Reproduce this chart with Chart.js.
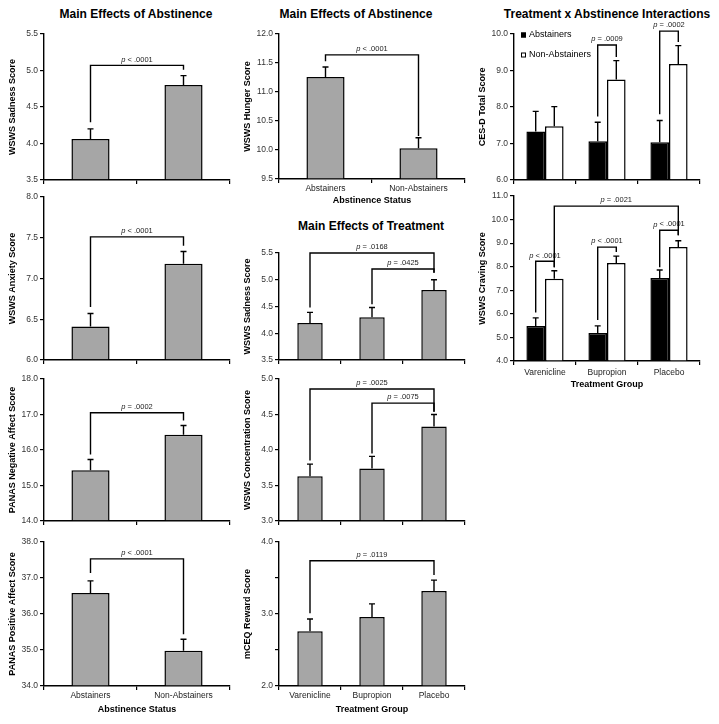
<!DOCTYPE html>
<html>
<head>
<meta charset="utf-8">
<script src="https://cdn.jsdelivr.net/npm/chart.js"></script>
<style>
  body { margin: 0; background: #fff; }
  #fig { position: relative; width: 719px; height: 724px; font-family: "Liberation Sans", Arial, sans-serif; }
  #fig canvas { position: absolute; }
  .title { position: absolute; font-weight: bold; font-size: 12px; white-space: nowrap; transform: translate(-50%, -50%); }
</style>
</head>
<body>
<div id="fig">
  <div class="title" style="left:136px; top:14px">Main Effects of Abstinence</div>
  <div class="title" style="left:356px; top:14px">Main Effects of Abstinence</div>
  <div class="title" style="left:371px; top:226px">Main Effects of Treatment</div>
  <div class="title" style="left:607px; top:14px">Treatment x Abstinence Interactions</div>
</div>
<script>
var abstLabels = ["Abstainers", "Non-Abstainers"];
var drugLabels = ["Varenicline", "Bupropion", "Placebo"];

// main effects of abstinence (mean, standard error)
var sadAbst = [4.06, 4.80];
var sadAbstSE = [0.14, 0.13];
var anxAbst = [6.41, 7.18];
var anxAbstSE = [0.16, 0.15];
var negAbst = [15.43, 16.43];
var negAbstSE = [0.30, 0.26];
var posAbst = [36.58, 34.98];
var posAbstSE = [0.34, 0.32];
var hungerAbst = [11.26, 10.03];
var hungerAbstSE = [0.17, 0.18];

// main effects of treatment
var sadDrug = [4.19, 4.30, 4.81];
var sadDrugSE = [0.20, 0.18, 0.19];
var concDrug = [3.63, 3.74, 4.33];
var concDrugSE = [0.17, 0.17, 0.17];
var rewardDrug = [2.76, 2.96, 3.32];
var rewardDrugSE = [0.17, 0.18, 0.15];

// treatment x abstinence
var cesdAbst = [7.33, 7.06, 7.03];
var cesdAbstSE = [0.55, 0.52, 0.60];
var cesdNon = [7.47, 8.75, 9.18];
var cesdNonSE = [0.54, 0.52, 0.50];
var cravAbst = [5.49, 5.19, 7.52];
var cravAbstSE = [0.34, 0.30, 0.34];
var cravNon = [7.49, 8.16, 8.84];
var cravNonSE = [0.34, 0.29, 0.26];

var barGray = "#a6a6a6";

// error bars, significance brackets and the small legend
var sigPlugin = {
  id: "sig",
  afterDatasetsDraw: function (chart, args, opts) {
    var ctx = chart.ctx;
    var y = chart.scales.y;
    ctx.save();
    ctx.strokeStyle = "#000";
    ctx.lineWidth = 1.4;
    chart.data.datasets.forEach(function (ds, d) {
      chart.getDatasetMeta(d).data.forEach(function (bar, i) {
        var top = y.getPixelForValue(ds.data[i] + ds.se[i]);
        ctx.beginPath();
        ctx.moveTo(bar.x, bar.y);
        ctx.lineTo(bar.x, top);
        ctx.moveTo(bar.x - 3, top);
        ctx.lineTo(bar.x + 3, top);
        ctx.stroke();
      });
    });

    (opts.brackets || []).forEach(function (b) {
      var x0 = chart.getDatasetMeta(b.from[0]).data[b.from[1]].x;
      var x1 = chart.getDatasetMeta(b.to[0]).data[b.to[1]].x;
      var yl = y.getPixelForValue(b.level);
      ctx.beginPath();
      ctx.moveTo(x0, y.getPixelForValue(b.ends[0]));
      ctx.lineTo(x0, yl);
      ctx.lineTo(x1, yl);
      ctx.lineTo(x1, y.getPixelForValue(b.ends[1]));
      ctx.stroke();

      var rest = b.text.slice(1);
      ctx.font = "italic 7.5px 'Liberation Sans'";
      var wp = ctx.measureText("p").width;
      ctx.font = "7.5px 'Liberation Sans'";
      var wr = ctx.measureText(rest).width;
      var tx = (x0 + x1) / 2 - (wp + wr) / 2;
      ctx.fillStyle = "#222";
      ctx.textBaseline = "bottom";
      ctx.textAlign = "left";
      ctx.font = "italic 7.5px 'Liberation Sans'";
      ctx.fillText("p", tx, yl - 2);
      ctx.font = "7.5px 'Liberation Sans'";
      ctx.fillText(rest, tx + wp, yl - 2);
    });

    if (opts.legend) {
      var area = chart.chartArea;
      chart.data.datasets.forEach(function (ds, d) {
        var lx = area.left + 7, ly = area.top + 1 + d * 20;
        ctx.fillStyle = ds.backgroundColor;
        ctx.fillRect(lx, ly - 2.5, 5, 5);
        ctx.lineWidth = 1;
        ctx.strokeRect(lx + 0.5, ly - 2, 4, 4);
        ctx.fillStyle = "#000";
        ctx.font = "9px 'Liberation Sans'";
        ctx.textBaseline = "middle";
        ctx.fillText(ds.label, lx + 8, ly);
      });
    }
    ctx.restore();
  }
};

function panel(left, plotTop, plotBottom, xh, cfg) {
  var padTop = 16;
  var canvas = document.createElement("canvas");
  canvas.width = 236;
  canvas.height = padTop + (plotBottom - plotTop) + xh;
  canvas.style.left = left + "px";
  canvas.style.top = (plotTop - padTop) + "px";
  document.getElementById("fig").appendChild(canvas);

  var grouped = cfg.datasets.length > 1;
  var datasets = cfg.datasets.map(function (ds) {
    return {
      label: ds.label,
      data: ds.data,
      se: ds.se,
      base: cfg.min,
      backgroundColor: ds.color || barGray,
      borderColor: "#000",
      borderWidth: 1.5,
      barPercentage: grouped ? 1.0 : 0.41,
      categoryPercentage: grouped ? 0.6 : 1.0
    };
  });

  new Chart(canvas, {
    type: "bar",
    data: { labels: cfg.labels, datasets: datasets },
    options: {
      responsive: false,
      animation: false,
      layout: { padding: { top: padTop, right: 6, left: 0, bottom: 0 } },
      plugins: {
        legend: { display: false },
        tooltip: { enabled: false },
        sig: { brackets: cfg.brackets, legend: cfg.legend }
      },
      scales: {
        x: {
          grid: { drawOnChartArea: false, drawTicks: true, tickLength: 4, color: "#000", lineWidth: 1.2 },
          border: { display: true, color: "#000", width: 1.4 },
          ticks: {
            display: !!cfg.xTitle,
            padding: cfg.tickPad || 1,
            color: "#222",
            font: { family: "Liberation Sans", size: 8.5 }
          },
          title: {
            display: !!cfg.xTitle,
            text: cfg.xTitle || "",
            color: "#000",
            padding: { top: 0, bottom: 4 },
            font: { family: "Liberation Sans", size: 9, weight: "bold" }
          },
          afterFit: function (s) { s.height = xh; }
        },
        y: {
          min: cfg.min,
          max: cfg.max,
          grid: { drawOnChartArea: false, drawTicks: true, tickLength: 4, color: "#000", lineWidth: 1.2 },
          border: { display: true, color: "#000", width: 1.4 },
          ticks: {
            stepSize: cfg.step,
            padding: 2,
            color: "#333",
            font: { family: "Liberation Sans", size: 8.5 },
            callback: function (v) {
              if (cfg.labelStep && Math.abs(v / cfg.labelStep - Math.round(v / cfg.labelStep)) > 1e-6) return "";
              return Number(v).toFixed(1);
            }
          },
          title: {
            display: true,
            text: cfg.yTitle,
            color: "#000",
            padding: { top: 7.5, bottom: 0 },
            font: { family: "Liberation Sans", size: 9, weight: "bold" }
          },
          afterFit: function (s) { s.width = 44; }
        }
      }
    },
    plugins: [sigPlugin]
  });
}

// column 1
panel(0, 34, 181, 6, {
  labels: abstLabels, min: 3.5, max: 5.5, step: 0.5, yTitle: "WSWS Sadness Score",
  datasets: [{ data: sadAbst, se: sadAbstSE }],
  brackets: [{ from: [0, 0], to: [0, 1], level: 5.07, ends: [4.29, 5.01], text: "p < .0001" }]
});
panel(0, 197, 361, 6, {
  labels: abstLabels, min: 6.0, max: 8.0, step: 0.5, yTitle: "WSWS Anxiety Score",
  datasets: [{ data: anxAbst, se: anxAbstSE }],
  brackets: [{ from: [0, 0], to: [0, 1], level: 7.51, ends: [6.65, 7.40], text: "p < .0001" }]
});
panel(0, 379, 522, 6, {
  labels: abstLabels, min: 14, max: 18, step: 1, yTitle: "PANAS Negative Affect Score",
  datasets: [{ data: negAbst, se: negAbstSE }],
  brackets: [{ from: [0, 0], to: [0, 1], level: 17.05, ends: [15.87, 16.83], text: "p = .0002" }]
});
panel(0, 542, 686, 33, {
  labels: abstLabels, min: 34, max: 38, step: 1, yTitle: "PANAS Positive Affect Score",
  xTitle: "Abstinence Status",
  datasets: [{ data: posAbst, se: posAbstSE }],
  brackets: [{ from: [0, 0], to: [0, 1], level: 37.53, ends: [37.14, 35.44], text: "p < .0001" }]
});

// column 2
panel(235, 34, 179, 31, {
  labels: abstLabels, min: 9.5, max: 12.0, step: 0.5, yTitle: "WSWS Hunger Score",
  xTitle: "Abstinence Status",
  datasets: [{ data: hungerAbst, se: hungerAbstSE }],
  brackets: [{ from: [0, 0], to: [0, 1], level: 11.64, ends: [11.53, 10.24], text: "p < .0001" }]
});
panel(235, 253, 361, 6, {
  labels: drugLabels, min: 3.5, max: 5.5, step: 0.5, yTitle: "WSWS Sadness Score",
  datasets: [{ data: sadDrug, se: sadDrugSE }],
  brackets: [
    { from: [0, 0], to: [0, 2], level: 5.50, ends: [4.48, 5.13], text: "p = .0168" },
    { from: [0, 1], to: [0, 2], level: 5.20, ends: [4.54, 5.13], text: "p = .0425" }
  ]
});
panel(235, 379, 522, 6, {
  labels: drugLabels, min: 3.0, max: 5.0, step: 0.5, yTitle: "WSWS Concentration Score",
  datasets: [{ data: concDrug, se: concDrugSE }],
  brackets: [
    { from: [0, 0], to: [0, 2], level: 4.86, ends: [3.85, 4.54], text: "p = .0025" },
    { from: [0, 1], to: [0, 2], level: 4.66, ends: [3.95, 4.54], text: "p = .0075" }
  ]
});
panel(235, 542, 686, 33, {
  labels: drugLabels, min: 2.0, max: 4.0, step: 0.5, labelStep: 1, yTitle: "mCEQ Reward Score",
  xTitle: "Treatment Group",
  datasets: [{ data: rewardDrug, se: rewardDrugSE }],
  brackets: [{ from: [0, 0], to: [0, 2], level: 3.74, ends: [3.01, 3.54], text: "p = .0119" }]
});

// column 3
panel(470, 34, 181, 6, {
  labels: drugLabels, min: 6, max: 10, step: 1, yTitle: "CES-D Total Score", legend: true,
  datasets: [
    { label: "Abstainers", data: cesdAbst, se: cesdAbstSE, color: "#000" },
    { label: "Non-Abstainers", data: cesdNon, se: cesdNonSE, color: "#fff" }
  ],
  brackets: [
    { from: [0, 1], to: [1, 1], level: 9.70, ends: [7.74, 9.37], text: "p = .0009" },
    { from: [0, 2], to: [1, 2], level: 10.08, ends: [7.80, 9.78], text: "p = .0002" }
  ]
});
panel(470, 196, 361, 33, {
  labels: drugLabels, min: 4, max: 11, step: 1, yTitle: "WSWS Craving Score",
  xTitle: "Treatment Group", tickPad: 3,
  datasets: [
    { label: "Abstainers", data: cravAbst, se: cravAbstSE, color: "#000" },
    { label: "Non-Abstainers", data: cravNon, se: cravNonSE, color: "#fff" }
  ],
  brackets: [
    { from: [0, 0], to: [1, 0], level: 8.23, ends: [6.06, 7.98], text: "p < .0001" },
    { from: [0, 1], to: [1, 1], level: 8.83, ends: [5.74, 8.62], text: "p < .0001" },
    { from: [0, 2], to: [1, 2], level: 9.55, ends: [7.98, 9.34], text: "p < .0001" },
    { from: [1, 0], to: [1, 2], level: 10.57, ends: [7.98, 9.34], text: "p = .0021" }
  ]
});
</script>
</body>
</html>
